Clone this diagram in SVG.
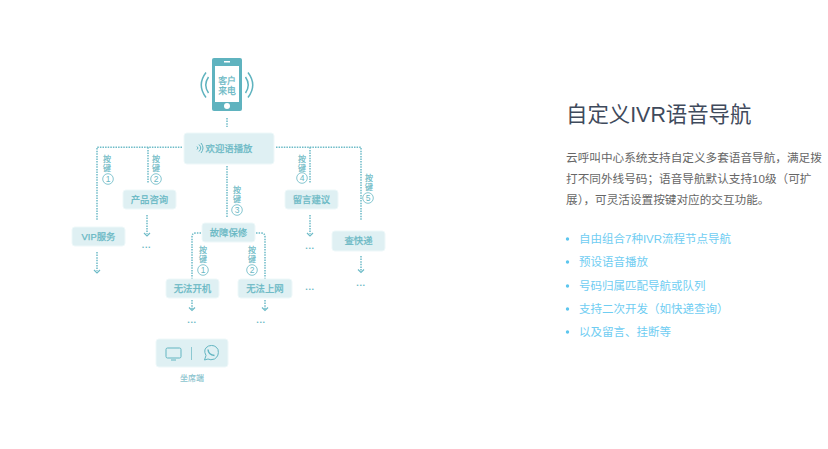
<svg xmlns="http://www.w3.org/2000/svg" width="828" height="449" viewBox="0 0 828 449">
<defs>
<style>
text{font-family:"Liberation Sans","Noto Sans CJK SC",sans-serif}
.b{fill:#dff0f3;stroke:#eef8f9;stroke-width:1}
.t{fill:#68b8c4;stroke:#68b8c4;stroke-width:.25px;font-size:9.4px;text-anchor:middle}
.k{fill:#68b8c4;stroke:#68b8c4;stroke-width:.2px;font-size:8px;text-anchor:middle}
.c{fill:none;stroke:#68b8c4;stroke-width:.8}
.n{fill:#68b8c4;font-size:8.5px;text-anchor:middle}
.l{fill:none;stroke:#6dbbc7;stroke-width:1.5;stroke-dasharray:1.5 1.1}
.a{fill:none;stroke:#6dbbc7;stroke-width:1.2}
.d{fill:#68b8c4;font-size:9px;text-anchor:middle;font-weight:700;letter-spacing:.6px}
.p{fill:#666;font-size:11.64px}
.li{fill:#6fcdf2;font-size:11.5px}
.dot{fill:#5cc6ee}
</style>
<g id="arrowhead"><path class="a" d="M-3 -2L0 1L3 -2"/></g>
</defs>
<rect width="828" height="449" fill="#fff"/>
<g id="connectors">
<path class="l" d="M227 118V127"/>
<path class="l" d="M182 147.300H97V221"/>
<path class="l" d="M148 147.300V183"/>
<path class="l" d="M227 166V218"/>
<path class="l" d="M276 147.300H361V221"/>
<path class="l" d="M310 147.300V183"/>
<path class="l" d="M97 252V271"/>
<path class="l" d="M147 215V234"/>
<path class="l" d="M310 215V234"/>
<path class="l" d="M361 256V271"/>
<path class="l" d="M201 233H196Q192 233 192 237V279"/>
<path class="l" d="M256 233H261Q265 233 265 237V279"/>
<path class="l" d="M192 300V309"/>
<path class="l" d="M265 300V309"/>
<use href="#arrowhead" x="97" y="272"/>
<use href="#arrowhead" x="147" y="235"/>
<use href="#arrowhead" x="310" y="235"/>
<use href="#arrowhead" x="361" y="271.500"/>
<use href="#arrowhead" x="192" y="309.500"/>
<use href="#arrowhead" x="265" y="309.500"/>
</g>
<g id="phone">
<rect x="212" y="58" width="30" height="53" rx="2" fill="#5fb3bf"/>
<rect x="215" y="66" width="24" height="36" fill="#fff"/>
<rect x="224" y="61" width="6" height="1.500" fill="#fff"/>
<circle cx="227" cy="106" r="3" fill="#fff"/>
<text class="t" x="227" y="84" style="font-size:8.800px">客户</text>
<text class="t" x="227" y="94" style="font-size:8.800px">来电</text>
<path d="M206 72.500Q196.500 85 206 97.500M208.500 77Q203 85 208.500 93M248 72.500Q257.500 85 248 97.500M245.500 77Q251 85 245.500 93" fill="none" stroke="#5fb3bf" stroke-width="1.500"/>
</g>
<g id="welcome">
<rect class="b" x="184" y="133" width="90" height="31" rx="3"/>
<path d="M197 146.500Q199 148 197 149.500M199 144.500Q202.500 148 199 151.500M201 143Q205 148 201 153" fill="none" stroke="#62b5c1" stroke-width="1"/>
<text class="t" x="229" y="152">欢迎语播放</text>
</g>
<g id="vip"><rect class="b" x="72" y="227" width="53" height="19" rx="3"/><text class="t" x="98.500" y="240">VIP服务</text></g>
<g id="product"><rect class="b" x="123" y="190" width="53" height="19" rx="3"/><text class="t" x="149.500" y="203">产品咨询</text></g>
<g id="fault"><rect class="b" x="202" y="223" width="53" height="19" rx="3"/><text class="t" x="228.500" y="236">故障保修</text></g>
<g id="message"><rect class="b" x="285" y="190" width="53" height="19" rx="3"/><text class="t" x="311.500" y="203">留言建议</text></g>
<g id="express"><rect class="b" x="332" y="231" width="53" height="20" rx="3"/><text class="t" x="358.500" y="244">查快递</text></g>
<g id="nopower"><rect class="b" x="166" y="279" width="53" height="19" rx="3"/><text class="t" x="192.500" y="292">无法开机</text></g>
<g id="noweb"><rect class="b" x="238" y="279" width="54" height="19" rx="3"/><text class="t" x="265" y="292">无法上网</text></g>
<g id="key1"><text class="k" x="107" y="162">按</text><text class="k" x="107" y="171">键</text><circle class="c" cx="108" cy="179" r="5.300"/><text class="n" x="108" y="182">1</text></g>
<g id="key2"><text class="k" x="156" y="162">按</text><text class="k" x="156" y="171">键</text><circle class="c" cx="156" cy="179" r="5.300"/><text class="n" x="156" y="182">2</text></g>
<g id="key3"><text class="k" x="237" y="192.500">按</text><text class="k" x="237" y="201.500">键</text><circle class="c" cx="237" cy="210" r="5.300"/><text class="n" x="237" y="213">3</text></g>
<g id="key4"><text class="k" x="302" y="161.500">按</text><text class="k" x="302" y="170.500">键</text><circle class="c" cx="302" cy="178" r="5.300"/><text class="n" x="302" y="181">4</text></g>
<g id="key5"><text class="k" x="369" y="181">按</text><text class="k" x="369" y="190">键</text><circle class="c" cx="368" cy="198" r="5.300"/><text class="n" x="368" y="201">5</text></g>
<g id="key6"><text class="k" x="203" y="253">按</text><text class="k" x="203" y="262">键</text><circle class="c" cx="203" cy="270" r="5.300"/><text class="n" x="203" y="273">1</text></g>
<g id="key7"><text class="k" x="252" y="253">按</text><text class="k" x="252" y="262">键</text><circle class="c" cx="252" cy="270" r="5.300"/><text class="n" x="252" y="273">2</text></g>
<g id="more">
<text class="d" x="146.500" y="248">...</text>
<text class="d" x="310" y="249">...</text>
<text class="d" x="361" y="286">...</text>
<text class="d" x="310" y="290">...</text>
<text class="d" x="192" y="323">...</text>
<text class="d" x="261" y="323">...</text>
</g>
<g id="agent">
<rect class="b" x="156" y="339" width="72" height="28" rx="3"/>
<rect x="166" y="348" width="15" height="10" rx="1.500" fill="none" stroke="#62b5c1" stroke-width="1"/>
<path d="M171 360H176" stroke="#62b5c1" stroke-width="1"/>
<path d="M191.500 347V360" stroke="#8cc8d1" stroke-width="1"/>
<path d="M204.500 360L206 355.500Q202.500 349 208.500 346Q215 344 218 349.500Q219.500 356 214.500 359Q210.500 360.500 208 359Z" fill="none" stroke="#62b5c1" stroke-width="1"/>
<path d="M208 349.500Q208.500 355 214.500 355.500" fill="none" stroke="#62b5c1" stroke-width="1.500"/>
<text x="192" y="381" text-anchor="middle" font-size="8" font-weight="500" fill="#8cc4ce">坐席端</text>
</g>
<g id="title"><text x="566" y="122" font-size="21.400" fill="#3f4a5c">自定义IVR语音导航</text></g>
<g id="desc">
<text class="p" x="566" y="161.500">云呼叫中心系统支持自定义多套语音导航，满足拨</text>
<text class="p" x="566" y="182.500">打不同外线号码；语音导航默认支持10级（可扩</text>
<text class="p" x="566" y="204">展），可灵活设置按键对应的交互功能。</text>
</g>
<g id="list">
<circle class="dot" cx="567.500" cy="239" r="1.700"/><text class="li" x="579" y="243">自由组合7种IVR流程节点导航</text>
<circle class="dot" cx="567.500" cy="262" r="1.700"/><text class="li" x="579" y="266">预设语音播放</text>
<circle class="dot" cx="567.500" cy="286" r="1.700"/><text class="li" x="579" y="289.500">号码归属匹配导航或队列</text>
<circle class="dot" cx="567.500" cy="309" r="1.700"/><text class="li" x="579" y="313">支持二次开发（如快递查询）</text>
<circle class="dot" cx="567.500" cy="332" r="1.700"/><text class="li" x="579" y="336">以及留言、挂断等</text>
</g>
</svg>
